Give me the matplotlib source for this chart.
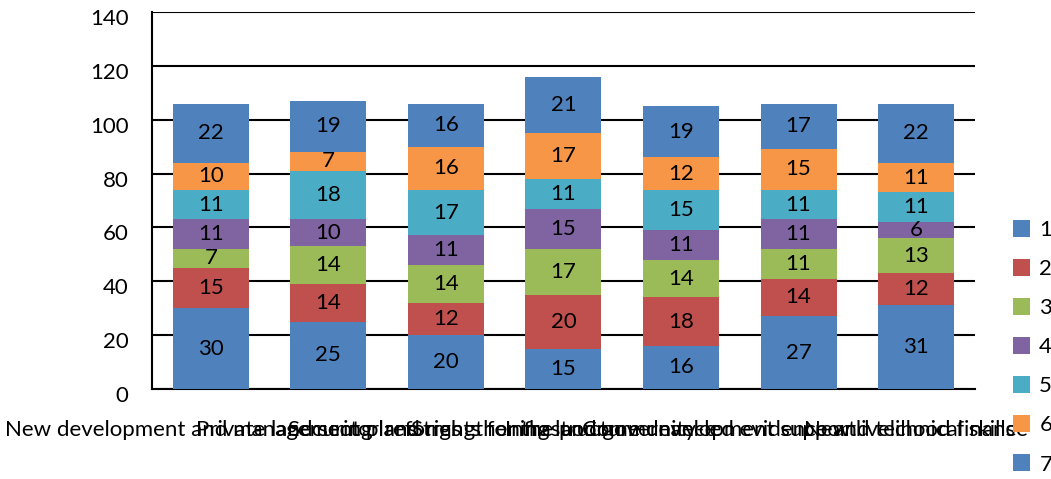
import matplotlib
matplotlib.use('Agg')
import matplotlib.pyplot as plt
import matplotlib.transforms as mtransforms
import numpy as np

plt.rcParams['font.family'] = ['Lato', 'DejaVu Sans']

categories = ['New development and management plans',
              'Private land sector reforms',
              'Securing land rights for the poor',
              'Strengthening land governance',
              'Infrastructure development support',
              'Community-led evidence and technical skills',
              'New livelihood finance']
series_names = ['1', '2', '3', '4', '5', '6', '7']
s1 = [30, 25, 20, 15, 16, 27, 31]
s2 = [15, 14, 12, 20, 18, 14, 12]
s3 = [7, 14, 14, 17, 14, 11, 13]
s4 = [11, 10, 11, 15, 11, 11, 6]
s5 = [11, 18, 17, 11, 15, 11, 11]
s6 = [10, 7, 16, 17, 12, 15, 11]
s7 = [22, 19, 16, 21, 19, 17, 22]
series = [s1, s2, s3, s4, s5, s6, s7]

COLORS = ['#4F81BD', '#C0504D', '#9BBB59', '#8064A2', '#4BACC6', '#F79646', '#4F81BD']

fig = plt.figure(figsize=(10.51, 4.79), dpi=100)
ax = fig.add_axes([0.1446, 0.188, 0.783, 0.787])

x = np.arange(len(categories))
bottom = np.zeros(len(categories))
handles = []
for name, vals, c in zip(series_names, series, COLORS):
    bars = ax.bar(x, vals, 0.646, bottom=bottom, color=c, label=name, zorder=3)
    handles.append(bars)
    for xi, b, v in zip(x, bottom, vals):
        ax.text(xi, b + v / 2, str(v), ha='center', va='center', fontsize=16, zorder=4)
    bottom += np.array(vals)

ax.set_xlim(-0.5, len(categories) - 0.5)
ax.set_ylim(0, 140)
ax.set_yticks(range(0, 141, 20))
ax.tick_params(axis='y', labelsize=16, length=0, pad=17)
# excel-style: y labels sit a bit below their gridline
offset = mtransforms.ScaledTranslation(0, -5 / 100, fig.dpi_scale_trans)
for lbl in ax.get_yticklabels():
    lbl.set_transform(lbl.get_transform() + offset)
ax.set_xticks(x)
ax.set_xticklabels(categories, fontsize=16)
ax.tick_params(axis='x', length=0, pad=22)
ax.grid(True, axis='y', color='black', linewidth=1.5, zorder=0)
for s in ['top', 'right']:
    ax.spines[s].set_visible(False)
ax.spines['left'].set_linewidth(1.5)
ax.spines['bottom'].set_linewidth(1.5)

fig.legend(handles=handles, labels=series_names, loc='upper left',
           bbox_to_anchor=(0.955, 0.56), frameon=False, fontsize=16,
           handlelength=0.8, handleheight=0.8, handletextpad=0.4,
           labelspacing=0.85, borderaxespad=0)

fig.savefig('out.png', dpi=100)
